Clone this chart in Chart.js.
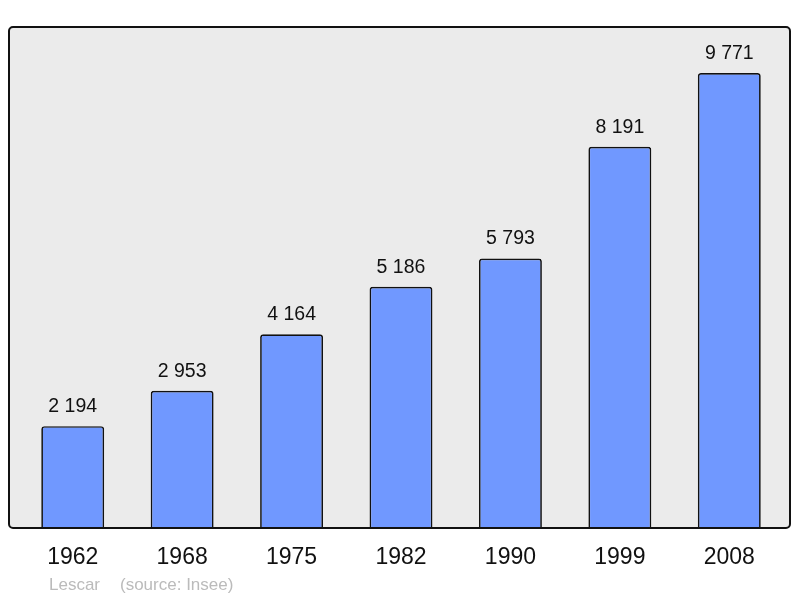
<!DOCTYPE html>
<html>
<head>
<meta charset="utf-8">
<script src="https://cdn.jsdelivr.net/npm/chart.js@4"></script>
<style>
  body { margin: 0; background: #fff; }
  canvas { display: block; }
</style>
</head>
<body>
<canvas id="chart" width="800" height="598"></canvas>
<script>
const years = ['1962', '1968', '1975', '1982', '1990', '1999', '2008'];
const population = [2194, 2953, 4164, 5186, 5793, 8191, 9771];
const yMax = 10760;
const town = 'Lescar';
const source = '(source: Insee)';

const fmt = (v) => v.toLocaleString('fr-FR').replace(/\s/g, ' ');

// grey panel behind the bars, black frame over it
const panel = {
  id: 'panel',
  beforeDatasetsDraw(chart) {
    const { ctx } = chart;
    ctx.save();
    ctx.fillStyle = '#ebebeb';
    ctx.beginPath();
    ctx.roundRect(9, 27, 781, 501, 4);
    ctx.fill();
    ctx.restore();
  },
  afterDatasetsDraw(chart) {
    const { ctx } = chart;
    ctx.save();
    ctx.strokeStyle = '#111';
    ctx.lineWidth = 2;
    ctx.beginPath();
    ctx.roundRect(9, 27, 781, 501, 4);
    ctx.stroke();

    // value labels above each bar
    ctx.fillStyle = '#111';
    ctx.font = '19.5px "Liberation Sans", Arial, sans-serif';
    ctx.textAlign = 'center';
    ctx.textBaseline = 'alphabetic';
    chart.getDatasetMeta(0).data.forEach((bar, i) => {
      ctx.fillText(fmt(population[i]), bar.x, bar.y - 14);
    });

    // footer
    ctx.fillStyle = '#bbbbbb';
    ctx.font = '17px "Liberation Sans", Arial, sans-serif';
    ctx.textAlign = 'left';
    ctx.fillText(town, 49, 590);
    ctx.fillText(source, 120, 590);
    ctx.restore();
  }
};

new Chart(document.getElementById('chart'), {
  type: 'bar',
  data: {
    labels: years,
    datasets: [{
      data: population,
      backgroundColor: '#7098ff',
      borderColor: '#111',
      borderWidth: 1.7,
      borderRadius: 3,
      borderSkipped: 'bottom',
      barPercentage: 0.575,
      categoryPercentage: 1
    }]
  },
  options: {
    responsive: false,
    animation: false,
    layout: { padding: { left: 18, right: 16, top: 27, bottom: 12 } },
    plugins: { legend: { display: false }, tooltip: { enabled: false } },
    scales: {
      x: {
        grid: { display: false, drawTicks: false },
        border: { display: false },
        ticks: { color: '#111', padding: 15, font: { size: 23, family: '"Liberation Sans", Arial, sans-serif' } }
      },
      y: { display: false, min: 0, max: yMax }
    }
  },
  plugins: [panel]
});
</script>
</body>
</html>
